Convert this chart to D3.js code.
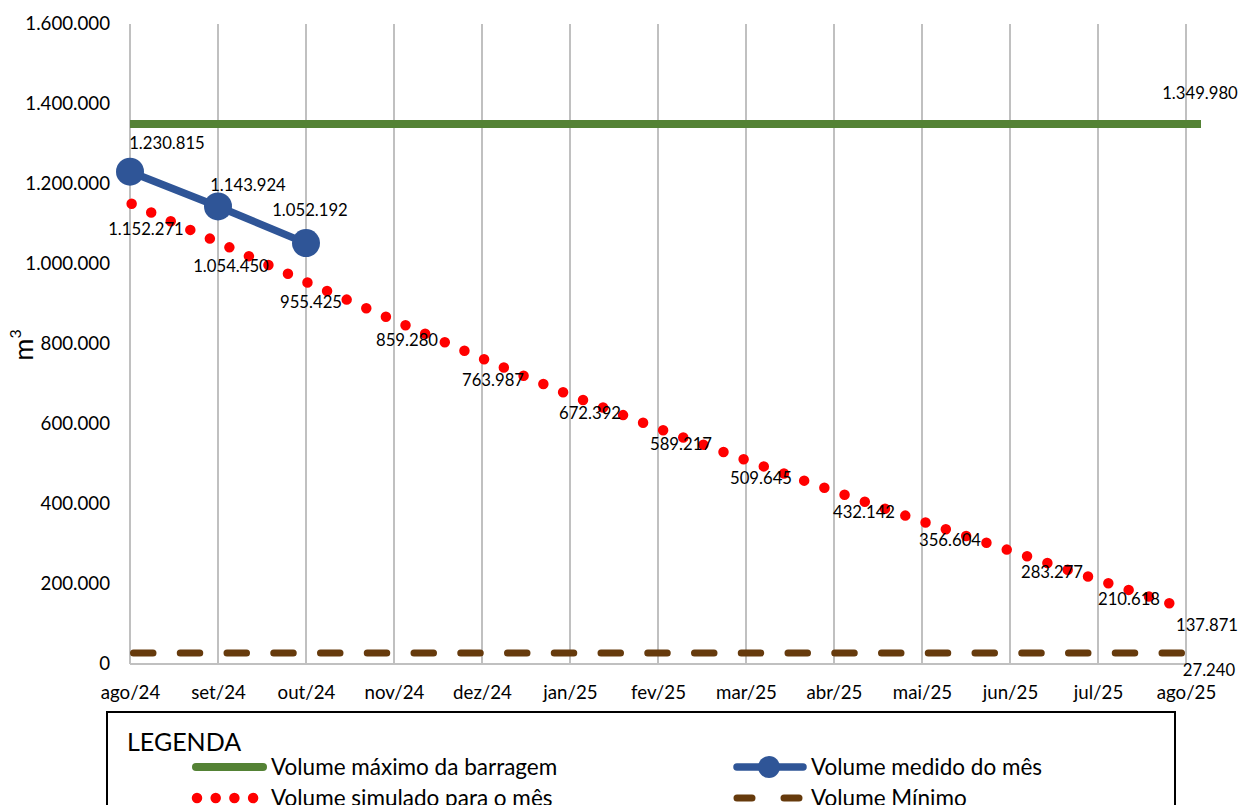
<!DOCTYPE html>
<html>
<head>
<meta charset="utf-8">
<script src="https://cdn.jsdelivr.net/npm/d3@7"></script>
<style>
  html, body { margin: 0; padding: 0; background: #ffffff; }
  svg { display: block; font-family: Lato, "Open Sans", sans-serif; }
</style>
</head>
<body>
<svg id="chart" width="1240" height="805"></svg>
<script>
// ---------- DATA ----------
const months = ["ago/24","set/24","out/24","nov/24","dez/24","jan/25","fev/25","mar/25","abr/25","mai/25","jun/25","jul/25","ago/25"];
const maxVolume = [1349980,1349980,1349980,1349980,1349980,1349980,1349980,1349980,1349980,1349980,1349980,1349980,1349980];
const measuredMonths = ["ago/24","set/24","out/24"];
const measured = [1230815, 1143924, 1052192];
const simulated = [1152271,1054450,955425,859280,763987,672392,589217,509645,432142,356604,283277,210618,137871];
const minVolume = [27240,27240,27240,27240,27240,27240,27240,27240,27240,27240,27240,27240,27240];
const yTicks = [0,200000,400000,600000,800000,1000000,1200000,1400000,1600000];
const legendLabels = ["Volume máximo da barragem","Volume medido do mês","Volume simulado para o mês","Volume Mínimo"];

// label nudges (annotation placement, in px)
const simLabelDx = [16,13,5,13,11,20,23,15,30,28,42,31,21];
const simLabelDy = [26,24,20,20,22,18,16,18,21,19,21,19,16];
const measLabelDx = [37,30,4];
const measLabelDy = [-29,-21,-33];

// ---------- SETUP ----------
const svg = d3.select("#chart");
const W = 1240, H = 805;
svg.append("rect").attr("width", W).attr("height", H).attr("fill", "#fff");

const plot = { left: 130, right: 1186, top: 24, bottom: 664 };
const x = d3.scalePoint().domain(months).range([plot.left, plot.right]);
const y = d3.scaleLinear().domain([0, 1600000]).range([plot.bottom, plot.top]);

const locale = d3.formatLocale({ decimal: ",", thousands: ".", grouping: [3], currency: ["R$", ""] });
const fmt = locale.format(",d");

const colors = { max: "#548235", measured: "#2F5597", sim: "#FF0000", min: "#663A0C", grid: "#C0C0C0", text: "#000000" };

// ---------- GRID ----------
svg.append("g").selectAll("line").data(months).join("line")
  .attr("x1", d => x(d)).attr("x2", d => x(d))
  .attr("y1", y(1600000)).attr("y2", y(0))
  .attr("stroke", colors.grid).attr("stroke-width", 2);

svg.append("line")
  .attr("x1", x(months[0])).attr("x2", x(months[months.length - 1]))
  .attr("y1", y(0)).attr("y2", y(0))
  .attr("stroke", colors.grid).attr("stroke-width", 2);

// ---------- AXES ----------
const yAxis = svg.append("g").attr("transform", `translate(${plot.left},0)`)
  .call(d3.axisLeft(y).tickValues(yTicks).tickFormat(d => fmt(d)).tickSize(0).tickPadding(20));
yAxis.select(".domain").remove();
yAxis.selectAll("text").attr("font-size", 18.7).attr("fill", colors.text).attr("font-family", "Lato");

const xAxis = svg.append("g").attr("transform", `translate(0,${plot.bottom})`)
  .call(d3.axisBottom(x).tickSize(0).tickPadding(22));
xAxis.select(".domain").remove();
xAxis.selectAll("text").attr("font-size", 18.7).attr("fill", colors.text).attr("font-family", "Lato");

// Y title m³
const yTitle = svg.append("text")
  .attr("transform", "translate(33,345) rotate(-90)")
  .attr("text-anchor", "middle")
  .attr("font-size", 27).attr("fill", colors.text);
yTitle.append("tspan").text("m");
yTitle.append("tspan").text("3").attr("font-size", 16).attr("dy", -12);

// ---------- SERIES ----------
const line = d3.line().x(d => x(d.m)).y(d => y(d.v));

// Max volume (green)
const maxData = months.map((m, i) => ({ m, v: maxVolume[i] }));
const greenOverhang = 15;
svg.append("path")
  .attr("d", d3.line().x((d, i) => x(d.m) + (i === maxData.length - 1 ? greenOverhang : 0)).y(d => y(d.v))(maxData))
  .attr("fill", "none").attr("stroke", colors.max).attr("stroke-width", 8);

// Min volume (brown dashed)
const minData = months.map((m, i) => ({ m, v: minVolume[i] }));
svg.append("path")
  .attr("d", line(minData))
  .attr("fill", "none").attr("stroke", colors.min).attr("stroke-width", 7)
  .attr("stroke-linecap", "round")
  .attr("stroke-dasharray", "19.5 27.25")
  .attr("stroke-dashoffset", -3.5);

// Simulated (red round dots)
const simData = months.map((m, i) => ({ m, v: simulated[i] }));
svg.append("path")
  .attr("d", line(simData))
  .attr("fill", "none").attr("stroke", colors.sim).attr("stroke-width", 10.5)
  .attr("stroke-linecap", "round")
  .attr("stroke-dasharray", "0 21.4")
  .attr("stroke-dashoffset", -1.8);

// Measured (blue line + markers)
const measData = measuredMonths.map((m, i) => ({ m, v: measured[i] }));
svg.append("path")
  .attr("d", line(measData))
  .attr("fill", "none").attr("stroke", colors.measured).attr("stroke-width", 7.5)
  .attr("stroke-linejoin", "round");
svg.append("g").selectAll("circle").data(measData).join("circle")
  .attr("cx", d => x(d.m)).attr("cy", d => y(d.v)).attr("r", 14)
  .attr("fill", colors.measured);

// ---------- DATA LABELS ----------
const lbl = svg.append("g").attr("font-size", 16.7).attr("fill", colors.text).attr("text-anchor", "middle");
lbl.selectAll("text.sim").data(simData).join("text").attr("class", "sim")
  .attr("x", (d, i) => x(d.m) + simLabelDx[i])
  .attr("y", (d, i) => y(d.v) + simLabelDy[i])
  .attr("dy", "0.35em")
  .text(d => fmt(d.v));
lbl.selectAll("text.meas").data(measData).join("text").attr("class", "meas")
  .attr("x", (d, i) => x(d.m) + measLabelDx[i])
  .attr("y", (d, i) => y(d.v) + measLabelDy[i])
  .attr("dy", "0.35em")
  .text(d => fmt(d.v));
const lastMax = maxData[maxData.length - 1];
lbl.append("text").attr("x", x(lastMax.m) + 14).attr("y", y(lastMax.v) - 31).attr("dy", "0.35em").text(fmt(lastMax.v));
const lastMin = minData[minData.length - 1];
lbl.append("text").attr("x", x(lastMin.m) + 23).attr("y", y(lastMin.v) + 17).attr("dy", "0.35em").text(fmt(lastMin.v));

// ---------- LEGEND ----------
const lg = svg.append("g");
lg.append("rect").attr("x", 107).attr("y", 712).attr("width", 1068).attr("height", 120)
  .attr("fill", "#fff").attr("stroke", "#000").attr("stroke-width", 2);
lg.append("text").attr("x", 127).attr("y", 751).attr("font-size", 25).attr("fill", colors.text).text("LEGENDA");

const legTextSize = 22.5;
// row 1 left: max
lg.append("line").attr("x1", 196).attr("x2", 263).attr("y1", 767).attr("y2", 767)
  .attr("stroke", colors.max).attr("stroke-width", 8).attr("stroke-linecap", "round");
lg.append("text").attr("x", 271).attr("y", 775).attr("font-size", legTextSize).attr("fill", colors.text).text(legendLabels[0]);
// row 1 right: measured
lg.append("line").attr("x1", 737).attr("x2", 803).attr("y1", 767).attr("y2", 767)
  .attr("stroke", colors.measured).attr("stroke-width", 7.5).attr("stroke-linecap", "round");
lg.append("circle").attr("cx", 769).attr("cy", 767).attr("r", 11).attr("fill", colors.measured);
lg.append("text").attr("x", 811).attr("y", 775).attr("font-size", legTextSize).attr("fill", colors.text).text(legendLabels[1]);
// row 2 left: simulated
lg.append("line").attr("x1", 197).attr("x2", 256).attr("y1", 798).attr("y2", 798)
  .attr("stroke", colors.sim).attr("stroke-width", 10.5).attr("stroke-linecap", "round")
  .attr("stroke-dasharray", "0 18.7");
lg.append("text").attr("x", 271).attr("y", 806).attr("font-size", legTextSize).attr("fill", colors.text).text(legendLabels[2]);
// row 2 right: min
lg.append("line").attr("x1", 737).attr("x2", 803).attr("y1", 798).attr("y2", 798)
  .attr("stroke", colors.min).attr("stroke-width", 7).attr("stroke-linecap", "round")
  .attr("stroke-dasharray", "15 32");
lg.append("text").attr("x", 811).attr("y", 806).attr("font-size", legTextSize).attr("fill", colors.text).text(legendLabels[3]);
</script>
</body>
</html>
